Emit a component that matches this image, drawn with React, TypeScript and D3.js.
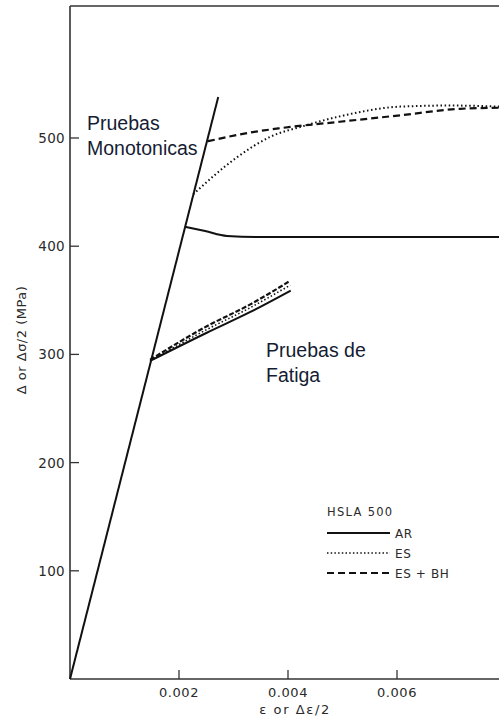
import React from "react";
import * as d3 from "d3";

const W = 499;
const H = 717;

const yTicks = [100, 200, 300, 400, 500];
const xTicks = [0.002, 0.004, 0.006];

const elasticStrain = [0, 0.00272];
const elasticStress = [0, 538];

const monoARStrain = [0.00211, 0.00248, 0.00288, 0.00349, 0.0045, 0.0079];
const monoARStress = [418, 414, 409.5, 408.5, 408.5, 408.5];

const monoESStrain = [0.00226, 0.00306, 0.00367, 0.00428, 0.00495, 0.00606, 0.00697, 0.0079];
const monoESStress = [448, 482, 501, 511, 520, 529, 530, 529];

const monoBHStrain = [0.00253, 0.0033, 0.00385, 0.00495, 0.00606, 0.00716, 0.0079];
const monoBHStress = [497, 505, 509, 515, 521, 527, 528];

const fatARStrain = [0.00147, 0.00251, 0.0033, 0.00405];
const fatARStress = [294, 320, 339, 359];

const fatESStrain = [0.00147, 0.00251, 0.0033, 0.00404];
const fatESStress = [294, 323, 343, 364];

const fatBHStrain = [0.00147, 0.00251, 0.0033, 0.00404];
const fatBHStress = [295, 326, 346, 368];

const legendItems = ["AR", "ES", "ES + BH"];
const legendDash = ["none", "1.5 2.2", "7 4"];

export default function App() {
  const x = d3.scaleLinear().domain([0, 0.008]).range([70, 506]);
  const y = d3.scaleLinear().domain([0, 500]).range([679, 138]);

  const mk = (xs: number[], ys: number[], curve = d3.curveMonotoneX) =>
    d3
      .line<number>()
      .x((_, i) => x(xs[i]))
      .y((_, i) => y(ys[i]))
      .curve(curve)(xs) as string;

  const axisColor = "#333";
  const tickFont = "DejaVu Sans, sans-serif";
  const annoColor = "#151c33";

  return (
    <svg
      width={W}
      height={H}
      style={{ position: "absolute", left: 0, top: 0, background: "#fff" }}
    >
      <rect x={0} y={0} width={W} height={H} fill="#fff" />
      {/* frame */}
      <line x1={70} y1={6} x2={W} y2={6} stroke={axisColor} strokeWidth={1.6} />
      <line x1={70} y1={6} x2={70} y2={679} stroke={axisColor} strokeWidth={1.6} />
      <line x1={70} y1={679} x2={W} y2={679} stroke={axisColor} strokeWidth={1.6} />

      {/* y ticks */}
      {yTicks.map((t) => (
        <g key={"y" + t}>
          <line x1={70} x2={79} y1={y(t)} y2={y(t)} stroke={axisColor} strokeWidth={1.3} />
          <text
            x={65}
            y={y(t) + 5}
            textAnchor="end"
            fontFamily={tickFont}
            fontSize={13.5}
            letterSpacing={0.3}
            fill="#2a2a2a"
          >
            {t}
          </text>
        </g>
      ))}

      {/* x ticks */}
      {xTicks.map((t) => (
        <g key={"x" + t}>
          <line x1={x(t)} x2={x(t)} y1={679} y2={670} stroke={axisColor} strokeWidth={1.3} />
          <text
            x={x(t)}
            y={697}
            textAnchor="middle"
            fontFamily={tickFont}
            fontSize={13}
            letterSpacing={0.6}
            fill="#2a2a2a"
          >
            {t.toFixed(3)}
          </text>
        </g>
      ))}

      {/* axis titles */}
      <text
        transform={`translate(26,340) rotate(-90)`}
        textAnchor="middle"
        fontFamily={tickFont}
        fontSize={13}
        letterSpacing={0.5}
        fill="#2a2a2a"
      >
        Δ or Δσ/2 (MPa)
      </text>
      <text
        x={295}
        y={714}
        textAnchor="middle"
        fontFamily={tickFont}
        fontSize={13}
        letterSpacing={1.6}
        fill="#2a2a2a"
      >
        ε or Δε/2
      </text>

      {/* curves */}
      <g fill="none" stroke="#111" strokeLinecap="butt">
        <path d={mk(elasticStrain, elasticStress, d3.curveLinear)} strokeWidth={2} />
        <path d={mk(monoARStrain, monoARStress)} strokeWidth={2} />
        <path d={mk(monoESStrain, monoESStress)} strokeWidth={2} strokeDasharray="1.5 2.6" />
        <path d={mk(monoBHStrain, monoBHStress)} strokeWidth={2.2} strokeDasharray="7 4" />
        <path d={mk(fatARStrain, fatARStress)} strokeWidth={2} />
        <path d={mk(fatESStrain, fatESStress)} strokeWidth={1.6} strokeDasharray="1.5 2.2" />
        <path d={mk(fatBHStrain, fatBHStress)} strokeWidth={2.2} strokeDasharray="5 2" />
      </g>

      {/* annotations */}
      <g fontFamily="Liberation Sans, Arial, sans-serif" fontSize={19.5} fill={annoColor}>
        <text x={87} y={130}>Pruebas</text>
        <text x={87} y={155}>Monotonicas</text>
        <text x={266} y={357}>Pruebas de</text>
        <text x={266} y={382}>Fatiga</text>
      </g>

      {/* legend */}
      <text
        x={327}
        y={516}
        fontFamily={tickFont}
        fontSize={11.5}
        letterSpacing={1.3}
        fill="#2a2a2a"
      >
        HSLA 500
      </text>
      {legendItems.map((name, i) => (
        <g key={name}>
          <line
            x1={327}
            x2={390}
            y1={533 + i * 20}
            y2={533 + i * 20}
            stroke="#111"
            strokeWidth={i === 1 ? 1.6 : 2}
            strokeDasharray={legendDash[i]}
          />
          <text
            x={395}
            y={538 + i * 20}
            fontFamily={tickFont}
            fontSize={12}
            letterSpacing={0.6}
            fill="#2a2a2a"
          >
            {name}
          </text>
        </g>
      ))}
    </svg>
  );
}
